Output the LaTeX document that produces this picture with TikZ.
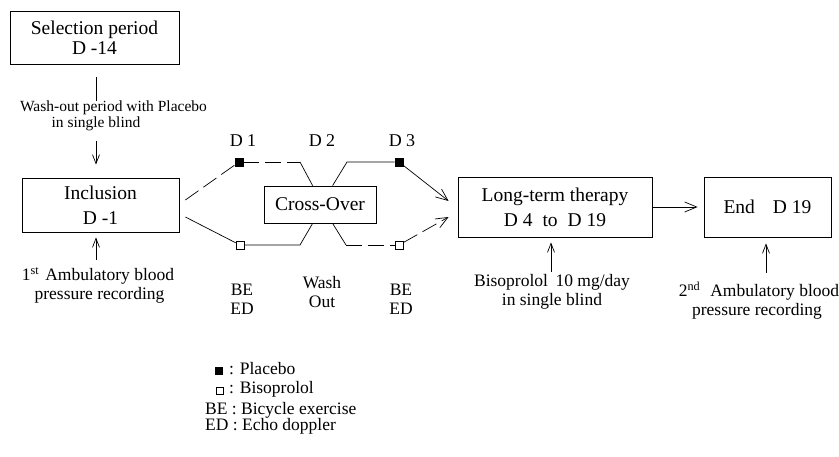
\documentclass[tikz,border=0pt]{standalone}
\usepackage{fontspec}
\setmainfont{Liberation Serif}
\usetikzlibrary{arrows.meta,calc}
\begin{document}
\begin{tikzpicture}[x=1pt,y=-1pt,
  box/.style={draw, line width=0.8pt, inner sep=0pt, align=center, font=\fontsize{19.5}{25}\selectfont},
  lbl/.style={inner sep=0pt, anchor=base, font=\fontsize{17.5}{20}\selectfont},
  dlbl/.style={inner sep=0pt, anchor=base, font=\fontsize{18}{20}\selectfont},
  small/.style={inner sep=0pt, anchor=base, font=\fontsize{15.5}{18}\selectfont},
  conn/.style={line width=0.7pt},
  arr/.style={conn, -{Straight Barb[length=9pt,width=7pt]}},
  bigarr/.style={conn, -{Straight Barb[length=12pt,width=10pt]}},
  dsh/.style={dash pattern=on 16pt off 6pt},
  fsq/.style={draw, line width=0.6pt, fill=black, minimum size=8pt, inner sep=0pt},
  osq/.style={draw, line width=0.6pt, fill=white, minimum size=8pt, inner sep=0pt},
]
\useasboundingbox (0,0) rectangle (839,457);

% boxes
\node[box, font=\fontsize{19.5}{20}\selectfont, minimum width=169pt, minimum height=53pt] (sel) at (94.5,37.5) {Selection period\\D -14};
\node[box, minimum width=157pt, minimum height=54pt] (inc) at (100.5,205) {Inclusion\\D -1};
\node[box, minimum width=112pt, minimum height=37pt] (co) at (320,204.5) {Cross-Over};
\node[box, minimum width=194pt, minimum height=60pt] (lt) at (555,207) {Long-term therapy\\D 4\hspace{10pt}to\hspace{10pt}D 19};
\node[box, minimum width=127pt, minimum height=60pt] (end) at (767.5,207) {End\hspace{18pt}D 19};

% wash-out annotation
\node[small] (wash1) at (113.5,112) {Wash-out period with Placebo};
\node[small] (wash2) at (96,128) {in single blind};
\draw[conn, shorten <=13pt] (sel.south -| wash2) -- (wash1.north -| wash2);
\draw[arr, shorten <=9pt, shorten >=13pt] (wash2.south) -- (inc.north -| wash2);

% annotations under boxes
\node[lbl] (abp1) at (98,281) {1\textsuperscript{st}\hspace{6pt}Ambulatory blood};
\node[lbl] (abp1b) at (99.5,300) {pressure recording};
\coordinate (a1) at (96,260);
\draw[arr, shorten >=5pt] (a1) -- (a1 |- inc.south);

\node[lbl] (biso1) at (552,287) {Bisoprolol\hspace{7.5pt}10 mg/day};
\node[lbl] (biso2) at (552,306) {in single blind};
\coordinate (a2) at (551,272);
\draw[arr, shorten >=5pt] (a2) -- (a2 |- lt.south);

\node[lbl] (abp2) at (759,297) {2\textsuperscript{nd}\hspace{10pt}Ambulatory blood};
\node[lbl] (abp2b) at (757,316) {pressure recording};
\coordinate (a3) at (766,273);
\draw[arr, shorten >=6pt] (a3) -- (a3 |- end.south);

% day labels
\node[dlbl] (d1) at (243,147) {D 1};
\node[dlbl] (d2) at (322,147) {D 2};
\node[dlbl] (d3) at (402,147) {D 3};

% markers
\node[fsq] (p1) at (239,162) {};
\node[fsq] (p3) at (399,162) {};
\node[osq] (q1) at (240,245) {};
\node[osq] (q3) at (399,245) {};

\coordinate (k1) at (300,162);
\coordinate (k2) at (347,162);
\coordinate (k3) at (300,245);
\coordinate (k4) at (346,245);

% upper path
\draw[conn,dsh] ($(inc.east)+(6,-5)$) -- (p1);
\draw[conn,dsh] (p1) -- (k1);
\draw[conn] (k1) -- ($(co.north west)+(49,0)$);
\draw[conn] ($(co.north west)+(69,0)$) -- (k2) -- (p3);
\draw[bigarr] (p3) -- ($(lt.west)+(-9,-6)$);

% lower path
\draw[conn] ($(inc.east)+(6,12)$) -- (q1);
\draw[conn] (q1) -- (k3) -- ($(co.south west)+(49,0)$);
\draw[conn] ($(co.south west)+(69,0)$) -- (k4);
\draw[conn,dsh] (k4) -- (q3);
\draw[bigarr,dsh] (q3) -- ($(lt.west)+(-9,10)$);

% long-term to end
\draw[bigarr, shorten >=6pt] (lt.east) -- (end.west);

% BE/ED, wash out
\node[lbl] (be1) at (242,296) {BE};
\node[lbl] (ed1) at (242,315) {ED};
\node[lbl] (wo1) at (322,289) {Wash};
\node[lbl] (wo2) at (322,308) {Out};
\node[lbl] (be2) at (401,296) {BE};
\node[lbl] (ed2) at (401,315) {ED};

% legend
\node[fsq, minimum size=7pt] (lp) at (218.5,371) {};
\node[lbl, anchor=base west] (lpt) at (229,375) {: Placebo};
\node[osq, minimum size=7pt] (lb) at (220,391) {};
\node[lbl, anchor=base west] (lbt) at (229,394) {: Bisoprolol};
\node[lbl, anchor=base west] (lbe) at (205,414) {BE : Bicycle exercise};
\node[lbl, anchor=base west] (led) at (205,431) {ED : Echo doppler};
\end{tikzpicture}
\end{document}
